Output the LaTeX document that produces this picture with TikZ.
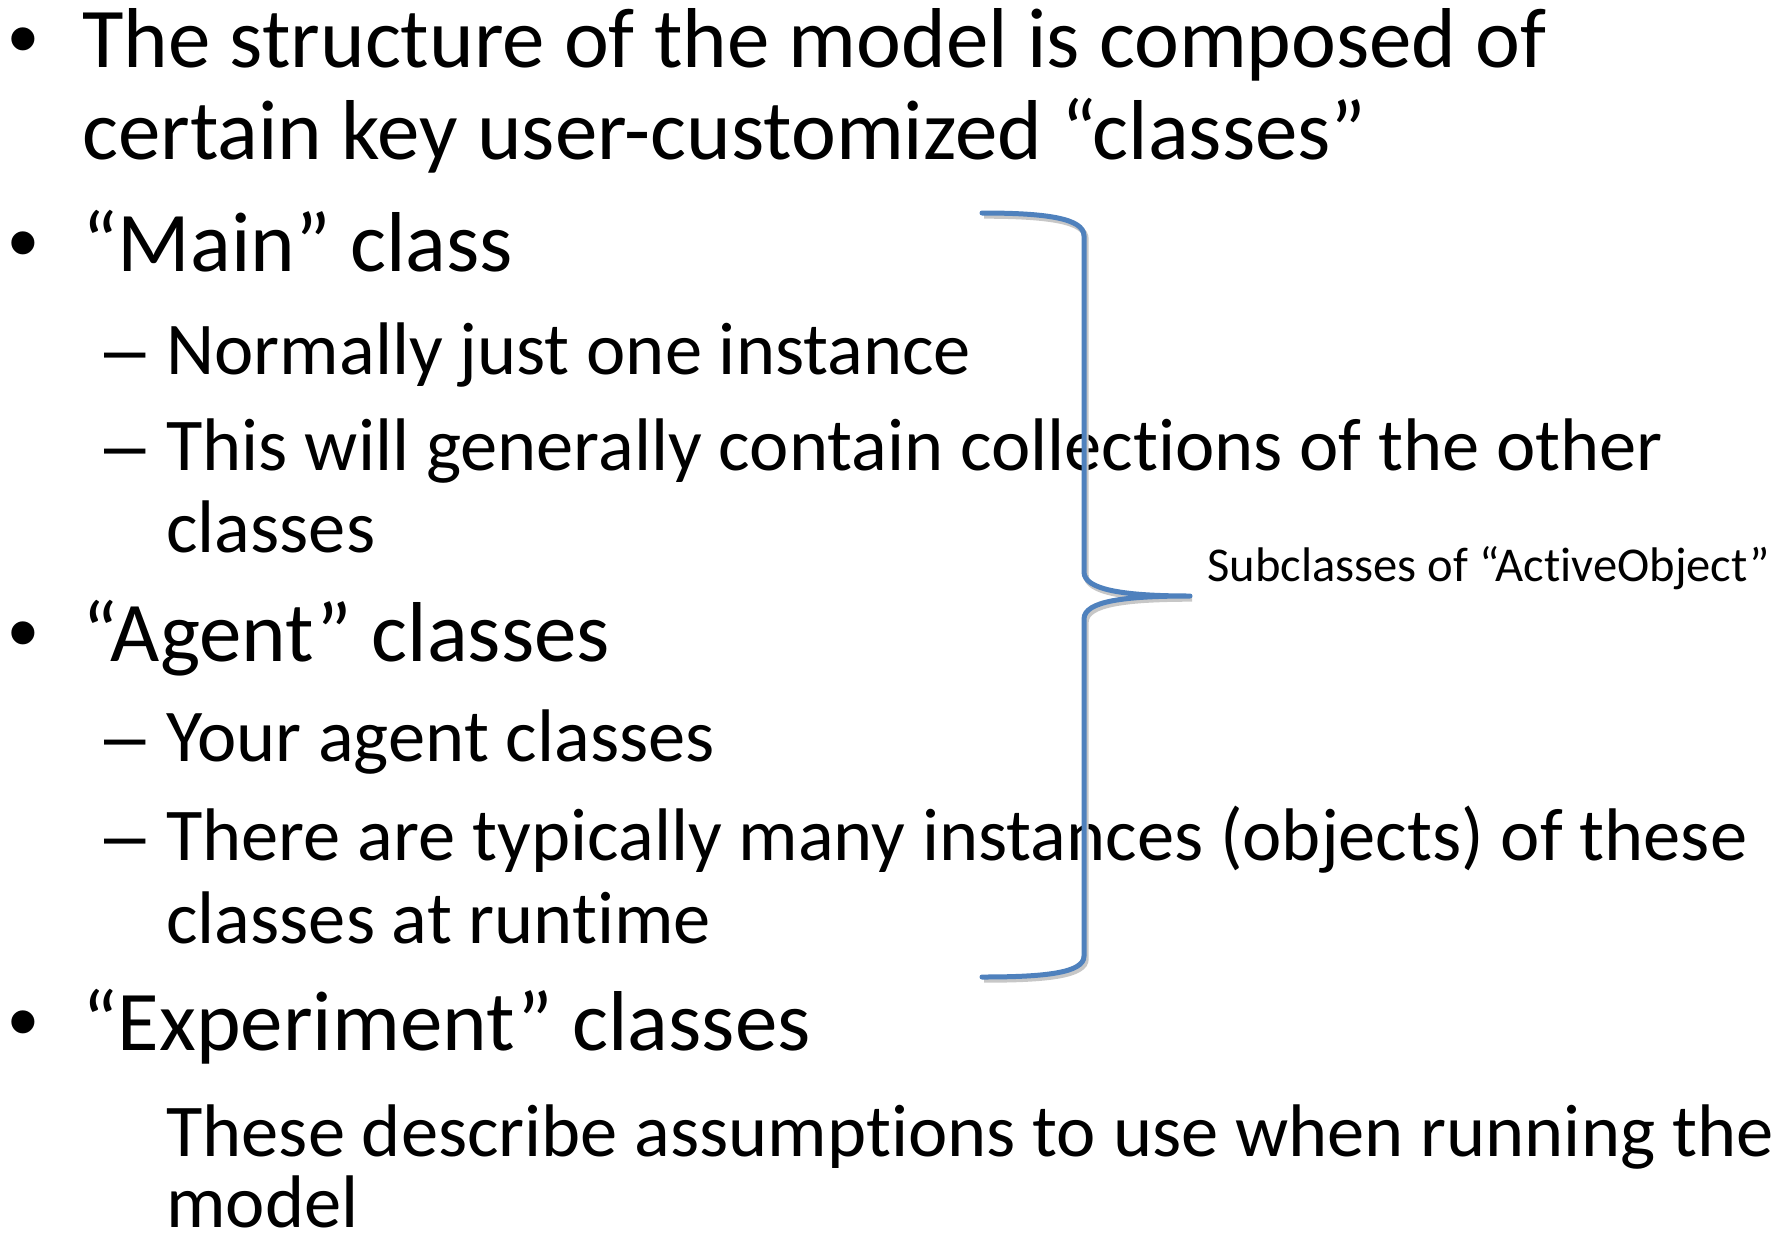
\documentclass[tikz,border=0pt]{standalone}
\usepackage{fontspec}
\setmainfont{Carlito}[Ligatures=CommonOff, RawFeature={-liga;-clig;-calt}]
\newfontfamily\bulletfont{Liberation Sans}
\usetikzlibrary{positioning}

\definecolor{braceblue}{RGB}{79,129,189}

\tikzset{
  itemone/.style={anchor=base west, inner sep=0pt, font=\fontsize{42.5}{46}\selectfont},
  itemtwo/.style={anchor=base west, inner sep=0pt, font=\fontsize{37.25}{41}\selectfont},
  bulletmark/.style={anchor=base west, inner sep=0pt, font=\bulletfont\fontsize{42.5}{46}\selectfont},
  dashmark/.style={anchor=base west, inner sep=0pt, font=\bulletfont\fontsize{37.25}{41}\selectfont},
  bracelabel/.style={anchor=base west, inner sep=0pt, font=\fontsize{24.3}{27}\selectfont},
  bracepath/.style={draw=braceblue, line width=2.5pt, line cap=round, line join=round,
    preaction={draw=black!22, line width=2.7pt, transform canvas={shift={(1pt,-1.5pt)}}}},
}

\begin{document}
\begin{tikzpicture}[x=0.5pt,y=-0.5pt]
\useasboundingbox (0,0) rectangle (1786,1236);

% bullets and dashes
\foreach \y [count=\i] in {68,271,661,1050} {
\node[bulletmark] (b\i) at (8,\y) {•};
}
\foreach \y [count=\i] in {374,470,761,860} {
\node[dashmark] (d\i) at (104,\y) {–};
}

% first level
\node[itemone] (intro) at (82,68) {The structure of the model is composed of};
\node[itemone] (intro2) at (82,159) {certain key user-customized “classes”};
\node[itemone] (main) at (82,271) {“Main” class};
\node[itemone] (agent) at (82,661) {“Agent” classes};
\node[itemone] (exper) at (82,1050) {“Experiment” classes};

% second level
\node[itemtwo] (mainone) at (166,374) {Normally just one instance};
\node[itemtwo] (maincoll) at (166,470) {This will generally contain collections of the other};
\node[itemtwo] (maincoll2) at (166,552) {classes};
\node[itemtwo] (agentyours) at (166,761) {Your agent classes};
\node[itemtwo] (agentmany) at (166,860) {There are typically many instances (objects) of these};
\node[itemtwo] (agentmany2) at (166,943) {classes at runtime};
\node[itemtwo] (experdesc) at (166,1156) {These describe assumptions to use when running the};
\node[itemtwo] (experdesc2) at (166,1227) {model};

% brace over the active object classes
\coordinate (bracetop) at (982,213);
\coordinate (bracebot) at (982,977);
\coordinate (tip) at (1190,596);
\draw[bracepath] (bracetop) .. controls (1045,213) and (1084,218) .. (1084,236)
  -- (1084,572) .. controls (1084,590) and (1125,596) .. (tip)
  .. controls (1125,596) and (1084,601) .. (1084,619)
  -- (1084,956) .. controls (1084,973) and (1045,977) .. (bracebot);
\node[bracelabel] (sublabel) at ([shift={(17,-15)}]tip) {Subclasses of “ActiveObject”};

\end{tikzpicture}
\end{document}
